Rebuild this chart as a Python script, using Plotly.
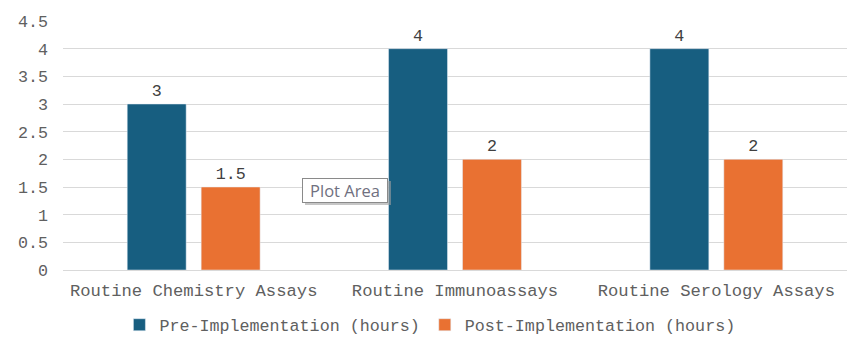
import plotly.graph_objects as go

categories = ["Routine Chemistry Assays", "Routine Immunoassays", "Routine Serology Assays"]
pre_values = [3, 4, 4]
post_values = [1.5, 2, 2]
pre_labels = ["3", "4", "4"]
post_labels = ["1.5", "2", "2"]
y_ticks = [0, 0.5, 1, 1.5, 2, 2.5, 3, 3.5, 4, 4.5]
y_tick_labels = ["0", "0.5", "1", "1.5", "2", "2.5", "3", "3.5", "4", "4.5"]

FONT = "Liberation Mono, Courier New, monospace"
GRAY = "#606060"
FS = 17.2

fig = go.Figure()
fig.add_trace(go.Bar(
    name="Pre-Implementation (hours)", x=categories, y=pre_values,
    marker=dict(color="#175e80"), text=pre_labels, textposition="outside",
    textfont=dict(family=FONT, size=16.7, color="#404040"), cliponaxis=False,
))
fig.add_trace(go.Bar(
    name="Post-Implementation (hours)", x=categories, y=post_values,
    marker=dict(color="#e97132"), text=post_labels, textposition="outside",
    textfont=dict(family=FONT, size=16.7, color="#404040"), cliponaxis=False,
))

fig.update_layout(
    width=860, height=345,
    margin=dict(l=63, r=13, t=21, b=75, autoexpand=False),
    paper_bgcolor="white", plot_bgcolor="white",
    barmode="group", bargap=0.434, bargroupgap=0.203,
    font=dict(family=FONT, size=FS, color=GRAY),
    showlegend=True,
    legend=dict(orientation="h", x=0.468, xanchor="center", y=-0.15, yanchor="top",
                font=dict(family=FONT, size=16.7, color=GRAY),
                traceorder="normal", itemwidth=30),
    xaxis=dict(showgrid=False, showline=True, linecolor="#d9d9d9", linewidth=1,
               ticks="", ticklabelstandoff=4, automargin=False,
               tickfont=dict(family=FONT, size=FS, color=GRAY)),
    yaxis=dict(range=[0, 4.5], tickvals=y_ticks, ticktext=y_tick_labels,
               showgrid=True, gridcolor="#d9d9d9", gridwidth=1, zeroline=False,
               showline=False, ticks="", ticklabelstandoff=14, automargin=False,
               tickfont=dict(family=FONT, size=16.7, color=GRAY)),
)

# "Plot Area" tooltip seen in the reference
px = lambda x: (x - 63) / 784
py = lambda y: (270 - y) / 249
fig.add_shape(type="rect", xref="paper", yref="paper",
              x0=px(305), x1=px(391), y0=py(205), y1=py(181),
              fillcolor="#a0a0a0", line=dict(width=0), opacity=0.6, layer="above")
fig.add_annotation(xref="paper", yref="paper",
                   x=px(302), y=py(178), xanchor="left", yanchor="top",
                   text="Plot Area", showarrow=False, width=78, height=17, align="center",
                   font=dict(family="Open Sans, Noto Sans, sans-serif", size=16.5, color="#707080"),
                   bgcolor="white", bordercolor="#8a8a8a", borderwidth=1, borderpad=3)

fig.write_html("out.html")
